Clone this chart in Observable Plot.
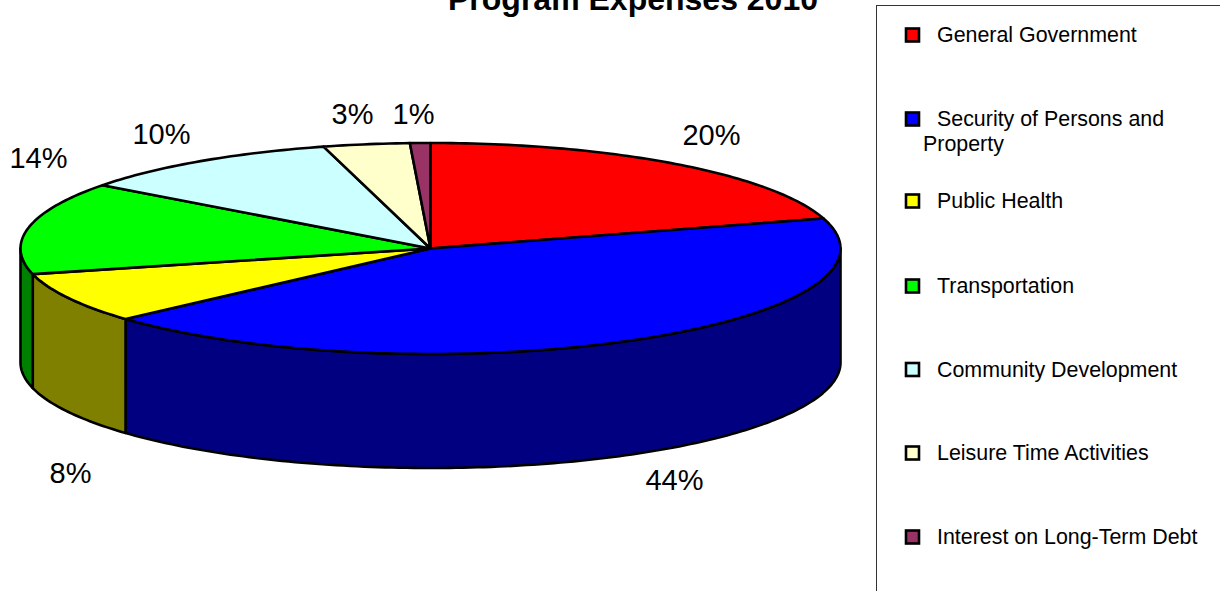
<!DOCTYPE html>
<html><head><meta charset="utf-8">
<style>html,body{margin:0;padding:0;background:#fff;overflow:hidden}svg{display:block}</style>
<script src="https://cdn.jsdelivr.net/npm/d3@7"></script>
<script src="https://cdn.jsdelivr.net/npm/@observablehq/plot@0.6"></script>
</head><body><script>
const titleText = "Program Expenses 2010";
const categories = ["General Government","Security of Persons and Property","Public Health","Transportation","Community Development","Leisure Time Activities","Interest on Long-Term Debt"];
const shares = [20.4,42.95,7.75,14.15,10.55,3.4,0.8];
const percentLabels = ["20%","44%","8%","14%","10%","3%","1%"];
const topColors = ["#ff0000","#0000ff","#ffff00","#00ff00","#ccffff","#ffffcc","#993366"];
const wallColors = ["#800000","#000080","#808000","#008000","#669999","#808066","#4d1933"];
const legendLines = [["General Government"],["Security of Persons and","Property"],["Public Health"],["Transportation"],["Community Development"],["Leisure Time Activities"],["Interest on Long-Term Debt"]];

// layout (pixels of the drawing frame)
const W = 1220, H = 591;
const pie = {cx:430, cy:248, rx:410, ry:105.5, depth:114};
const labelAt = [[711,135],[674,480],[70,473],[38,158],[161,134],[352,114],[413,114]];
const legendRows = [35,119,201,286,369.5,453,537];

const total = d3.sum(shares);
const pt = (deg, drop=0) => { const a = deg*Math.PI/180;
  return {x: pie.cx + pie.rx*Math.sin(a), y: pie.cy - pie.ry*Math.cos(a) + drop}; };
const arc = (a0,a1,drop=0) => { const n = Math.max(2,Math.ceil((a1-a0)/1));
  return d3.range(n+1).map(i=>pt(a0+(a1-a0)*i/n,drop)); };

let run = 0;
const tops = [], walls = [];
categories.forEach((c,i)=>{
  const a0 = run/total*360; run += shares[i]; const a1 = run/total*360;
  const ctr = {x:pie.cx,y:pie.cy};
  [ctr,...arc(a0,a1),ctr].forEach(p=>tops.push({...p,c,color:topColors[i]}));
  const w0 = Math.max(a0,90), w1 = Math.min(a1,270);
  if (w1>w0) {
    const upper = arc(w0,w1,0), lower = arc(w0,w1,pie.depth).reverse();
    [...upper,...lower,upper[0]].forEach(p=>walls.push({...p,c,color:wallColors[i]}));
  }
});
const font = "Liberation Sans, Arial, sans-serif";
const swatches = categories.map((c,i)=>({c,color:topColors[i],y:legendRows[i]}));
const legendText = [];
legendLines.forEach((ls,i)=>ls.forEach((t,j)=>legendText.push({t,x:j?922.5:936.5,y:legendRows[i]+j*25})));

const chart = Plot.plot({
  width:W,height:H,margin:0,
  x:{domain:[0,W],range:[0,W],axis:null},
  y:{domain:[0,H],range:[0,H],axis:null},
  style:{background:"#fff",fontFamily:font},
  marks:[
    Plot.line(walls,{x:"x",y:"y",z:"c",fill:"color",stroke:"#000",strokeWidth:2.6,strokeLinejoin:"round"}),
    Plot.line(tops,{x:"x",y:"y",z:"c",fill:"color",stroke:"#000",strokeWidth:2.6,strokeLinejoin:"round"}),
    Plot.text(percentLabels,{x:(d,i)=>labelAt[i][0],y:(d,i)=>labelAt[i][1],text:d=>d,fontSize:29,fill:"#000",textAnchor:"middle"}),
    Plot.text([titleText],{x:[632.5],y:[-1],text:d=>d,fontSize:32,fontWeight:"bold",fill:"#000",textAnchor:"middle"}),
    Plot.ruleX([876],{y1:5,y2:H,stroke:"#333",strokeWidth:1}),
    Plot.ruleY([5],{x1:876,x2:W,stroke:"#333",strokeWidth:1}),
    Plot.rect(swatches,{x1:906,x2:919,y1:d=>d.y-6.5,y2:d=>d.y+6.5,fill:"color",stroke:"#000",strokeWidth:2.6}),
    Plot.text(legendText,{x:"x",y:"y",text:"t",fontSize:21.4,fill:"#000",textAnchor:"start"})
  ]
});
document.body.appendChild(chart);
</script></body></html>
